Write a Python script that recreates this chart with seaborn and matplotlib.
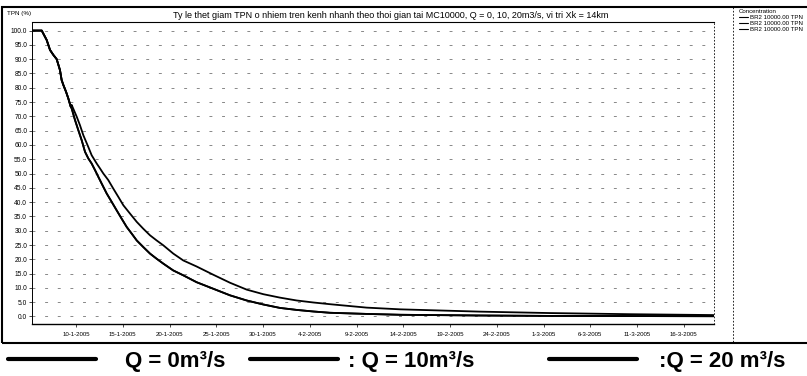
import pandas as pd
import numpy as np
import matplotlib.pyplot as plt
import seaborn as sns
from matplotlib.lines import Line2D
from matplotlib.patches import Rectangle

# left edge of the plot = start of the run
start = pd.Timestamp("2005-01-05 07:00")

# first days: all runs lie on top of each other
days_head = [0.0, 1.04, 1.57, 1.93, 2.28, 2.64, 2.99, 3.17, 3.35, 3.64, 3.88, 4.14]
tpn_head = [100.0, 100.0, 96.7, 93.2, 91.5, 90.0, 86.2, 82.7, 81.0, 78.6, 76.3, 73.4]

# Q = 0 m3/s (slowest decrease, upper curve)
days_q0 = [4.24, 4.78, 5.13, 5.49, 6.02, 6.38, 6.92, 7.27, 7.63, 8.16, 8.70, 9.24,
           9.77, 10.48, 11.20, 11.90, 12.62, 13.33, 14.04, 15.11, 16.18, 17.60,
           19.39, 21.18, 22.96, 24.74, 26.52, 28.31, 30.09, 31.87, 35.8, 39.4,
           47.9, 55.4, 64.0, 72.9]
tpn_q0 = [74.0, 69.9, 66.9, 63.4, 59.3, 56.4, 53.5, 51.8, 50.0, 47.7, 44.7, 41.8,
          38.9, 36.0, 33.1, 30.7, 28.4, 26.6, 24.9, 22.0, 19.6, 17.5,
          14.6, 11.8, 9.4, 7.8, 6.6, 5.6, 4.9, 4.3, 3.1, 2.5,
          1.7, 1.2, 0.8, 0.5]

# Q = 10 and Q = 20 m3/s (lower curve, the two overlap)
days_q10 = [4.24, 4.60, 4.95, 5.31, 5.67, 6.02, 6.38, 6.74, 7.10, 7.45, 7.99, 8.52,
            9.06, 9.59, 10.13, 10.66, 11.20, 11.90, 12.62, 13.33, 14.04, 15.11,
            16.18, 17.60, 19.39, 21.18, 22.96, 24.74, 26.52, 28.31, 30.09, 31.87,
            35.8, 39.4, 47.9, 55.4, 64.0, 72.9]
tpn_q10 = [72.8, 68.7, 65.2, 61.7, 57.6, 55.3, 53.5, 51.2, 48.8, 46.5, 43.0, 40.1,
           37.1, 34.2, 31.3, 29.0, 26.6, 24.3, 22.0, 20.2, 18.5, 16.1,
           14.4, 12.0, 9.7, 7.4, 5.6, 4.2, 3.0, 2.3, 1.75, 1.3,
           0.9, 0.6, 0.35, 0.2, 0.15, 0.1]
days_q20 = days_q10
tpn_q20 = [72.8, 68.7, 65.2, 61.7, 57.6, 55.3, 53.5, 51.2, 48.8, 46.5, 43.0, 40.1,
           37.1, 34.2, 31.3, 29.0, 26.6, 24.3, 22.0, 20.2, 18.5, 16.1,
           14.4, 12.0, 9.7, 7.4, 5.6, 4.2, 3.0, 2.3, 1.75, 1.3,
           0.9, 0.6, 0.35, 0.2, 0.15, 0.1]

series_names = ["Q0", "Q10", "Q20"]
legend_top = ["BR2 10000.00 TPN"] * 3
legend_bottom = ["Q = 0m³/s", ": Q = 10m³/s", ":Q = 20 m³/s"]
y_ticks = list(range(0, 101, 5))
tick_dates = pd.date_range("2005-01-10", "2005-03-16", freq="5D")

title = ("Ty le thet giam TPN o nhiem tren kenh nhanh theo thoi gian tai MC10000, "
         "Q = 0, 10, 20m3/s, vi tri Xk = 14km")

# long table for seaborn
frames = []
for name, d, v in zip(series_names, [days_q0, days_q10, days_q20], [tpn_q0, tpn_q10, tpn_q20]):
    frames.append(pd.DataFrame({"day": days_head + d, "tpn": tpn_head + v, "series": name}))
df = pd.concat(frames, ignore_index=True)
df["date"] = start + pd.to_timedelta(df["day"], unit="D")

sns.set_theme(style="white", rc={"text.color": "black", "xtick.color": "black",
                                 "ytick.color": "black", "axes.labelcolor": "black"})
plt.rcParams["font.family"] = ["Liberation Sans", "DejaVu Sans"]

W, H = 807, 376
fig = plt.figure(figsize=(W / 100, H / 100), dpi=100)
ax = fig.add_axes([32 / W, 1 - 323.5 / H, 682 / W, 301.5 / H])

sns.lineplot(data=df, x="date", y="tpn", hue="series", palette=["black"] * 3,
             estimator=None, linewidth=1.3, legend=False, ax=ax)

ax.set_xlim(start, start + pd.Timedelta(days=72.94))
ax.set_ylim(-2.45, 103)
ax.set_yticks(y_ticks)
ax.set_yticklabels([f"{v:.1f}" for v in y_ticks])
ax.set_xticks(tick_dates)
ax.set_xticklabels([f"{d.day}-{d.month}-{d.year}" for d in tick_dates])
ax.set_xlabel("")
ax.set_ylabel("")

ax.grid(axis="y", linestyle=(0, (3, 10)), color="#888888", linewidth=0.7)
ax.tick_params(axis="y", labelsize=4.8, length=2, width=0.5, pad=1.5, left=True)
ax.tick_params(axis="x", labelsize=4.4, length=2, width=0.5, pad=4, bottom=True)

ax.spines["left"].set_linestyle((0, (1, 1)))
ax.spines["left"].set_linewidth(0.7)
ax.spines["bottom"].set_linestyle((0, (3, 1)))
ax.spines["bottom"].set_linewidth(1.0)
ax.spines["right"].set_linestyle((0, (1, 3)))
ax.spines["right"].set_linewidth(0.6)
ax.spines["top"].set_linewidth(0.8)
for s in ax.spines.values():
    s.set_color("black")

fig.text(7 / W, 1 - 14 / H, "TPN (%)", fontsize=4.5, va="center")
fig.text(390.5 / W, 1 - 15 / H, title, ha="center", va="center", fontsize=6.5)

# small legend on the right
h_top = [Line2D([], [], color="black", lw=0.8) for _ in range(3)]
fig.legend(h_top, legend_top, title="Concentration", loc="upper left",
           bbox_to_anchor=(736 / W, 1 - 6 / H), fontsize=4.4, title_fontsize=4.4,
           frameon=False, handlelength=1.4, handletextpad=0.4, labelspacing=0.12,
           borderpad=0, alignment="left")

# big legend under the chart, one block per run
bottom_x = [8, 250, 549]
bottom_pad = [1.3, 0.45, 1.0]
for x0, lab, pad in zip(bottom_x, legend_bottom, bottom_pad):
    fig.legend([Line2D([], [], color="black", lw=3)], [lab], loc="center left",
               bbox_to_anchor=(x0 / W, 1 - 361 / H), prop={"size": 16, "weight": "bold"},
               frameon=False, handlelength=3.95, handletextpad=pad, borderpad=0,
               borderaxespad=0)

# outer frame and legend separator
fig.add_artist(Rectangle((2 / W, 1 - 343 / H), 820 / W, 336 / H, transform=fig.transFigure,
                         fill=False, lw=1.5, ec="black"))
fig.add_artist(Line2D([733 / W, 733 / W], [1 - 7 / H, 1 - 343 / H], transform=fig.transFigure,
                      lw=0.6, ls=(0, (2, 2)), color="black"))

fig.savefig("out.png", dpi=100)
